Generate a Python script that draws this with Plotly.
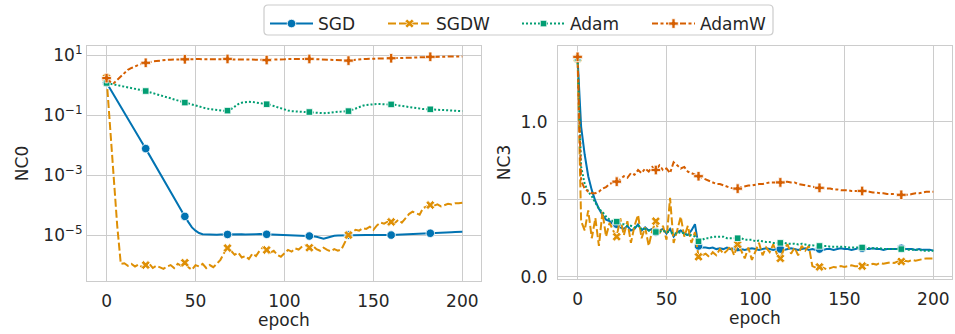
import plotly.graph_objects as go

# ---------------- data ----------------
epochs = list(range(0, 201, 2))
marker_epochs = [0, 22, 44, 68, 90, 114, 136, 160, 182]
series_names = ["SGD", "SGDW", "Adam", "AdamW"]

nc0_sgd = [
    1.2, 0.74, 0.47, 0.30, 0.19, 0.12, 0.074, 0.047, 0.030, 0.019,
    0.012, 7.6e-3, 4.7e-3, 3.0e-3, 1.8e-3, 1.1e-3, 7.1e-4, 4.4e-4, 2.7e-4, 1.7e-4,
    1.07e-4, 6.8e-5, 4.2e-5, 2.7e-5, 1.8e-5, 1.4e-5, 1.17e-5, 1.07e-5, 1.05e-5, 1.04e-5,
    1.04e-5, 1.03e-5, 1.05e-5, 1.06e-5, 1.05e-5, 1.04e-5, 1.05e-5, 1.07e-5, 1.06e-5, 1.05e-5,
    1.04e-5, 1.06e-5, 1.07e-5, 1.08e-5, 1.07e-5, 1.06e-5, 1.05e-5, 1.04e-5, 1.03e-5, 1.02e-5,
    1.0e-5, 0.99e-5, 0.98e-5, 0.97e-5, 0.96e-5, 0.95e-5, 0.94e-5, 0.93e-5, 0.92e-5, 0.88e-5,
    0.8e-5, 0.76e-5, 0.82e-5, 0.9e-5, 0.95e-5, 0.97e-5, 0.98e-5, 0.99e-5, 1.0e-5, 1.0e-5,
    1.0e-5, 0.99e-5, 1.0e-5, 1.01e-5, 1.0e-5, 0.99e-5, 1.0e-5, 1.01e-5, 1.0e-5, 1.0e-5,
    1.0e-5, 1.01e-5, 1.02e-5, 1.03e-5, 1.04e-5, 1.05e-5, 1.06e-5, 1.08e-5, 1.1e-5, 1.12e-5,
    1.13e-5, 1.15e-5, 1.16e-5, 1.18e-5, 1.2e-5, 1.21e-5, 1.23e-5, 1.25e-5, 1.27e-5, 1.28e-5,
    1.3e-5,
]
nc0_sgdw = [
    1.7, 0.04, 9e-4, 2e-5, 1.1e-6, 1.15e-6, 0.95e-6, 1.1e-6, 0.9e-6, 1.05e-6,
    0.85e-6, 1.0e-6, 1.1e-6, 0.8e-6, 0.95e-6, 0.85e-6, 0.75e-6, 0.9e-6, 1.0e-6, 0.8e-6,
    1.1e-6, 0.95e-6, 1.2e-6, 0.85e-6, 0.7e-6, 1.0e-6, 0.9e-6, 1.1e-6, 0.8e-6, 1.0e-6,
    0.85e-6, 1.1e-6, 1.5e-6, 2.5e-6, 3.7e-6, 3.0e-6, 2.2e-6, 2.6e-6, 1.8e-6, 2.0e-6,
    1.6e-6, 2.4e-6, 2.0e-6, 3.0e-6, 4.0e-6, 3.2e-6, 2.6e-6, 3.0e-6, 2.2e-6, 1.9e-6,
    2.5e-6, 3.2e-6, 2.8e-6, 3.6e-6, 3.3e-6, 4.2e-6, 4.6e-6, 3.8e-6, 4.4e-6, 3.4e-6,
    3.0e-6, 3.8e-6, 3.2e-6, 2.9e-6, 3.4e-6, 3.0e-6, 3.3e-6, 6e-6, 1.0e-5, 1.2e-5,
    1.5e-5, 1.4e-5, 1.7e-5, 1.6e-5, 1.9e-5, 1.5e-5, 2.1e-5, 2.6e-5, 2.4e-5, 2.8e-5,
    2.75e-5, 2.5e-5, 3.2e-5, 2.6e-5, 3.6e-5, 5.0e-5, 6.0e-5, 5.4e-5, 4.8e-5, 8e-5,
    9e-5, 1.0e-4, 9.5e-5, 1.05e-4, 9e-5, 1.0e-4, 1.1e-4, 1.05e-4, 1.15e-4, 1.15e-4,
    1.2e-4,
]
nc0_adam = [
    1.17, 1.11, 1.05, 0.99, 0.93, 0.88, 0.83, 0.785, 0.74, 0.70,
    0.66, 0.63, 0.58, 0.54, 0.50, 0.46, 0.42, 0.39, 0.36, 0.33,
    0.305, 0.28, 0.26, 0.24, 0.22, 0.20, 0.186, 0.174, 0.166, 0.158,
    0.151, 0.145, 0.14, 0.138, 0.14, 0.158, 0.19, 0.23, 0.257, 0.272,
    0.275, 0.272, 0.263, 0.251, 0.24, 0.229, 0.219, 0.2, 0.182, 0.166,
    0.151, 0.141, 0.135, 0.132, 0.13, 0.129, 0.129, 0.126, 0.123, 0.119,
    0.116, 0.115, 0.117, 0.122, 0.126, 0.129, 0.13, 0.132, 0.135, 0.148,
    0.166, 0.186, 0.204, 0.216, 0.224, 0.229, 0.232, 0.232, 0.232, 0.229,
    0.226, 0.219, 0.209, 0.2, 0.19, 0.182, 0.174, 0.168, 0.162, 0.158,
    0.157, 0.155, 0.151, 0.148, 0.145, 0.141, 0.138, 0.136, 0.135, 0.135,
    0.135,
]
nc0_adamw = [
    1.7, 1.3, 1.15, 1.5, 2.0, 2.6, 3.2, 3.7, 4.3, 4.7,
    5.1, 5.5, 5.8, 6.1, 6.3, 6.6, 6.8, 6.9, 7.0, 7.1,
    7.1, 7.2, 7.2, 7.2, 7.3, 7.3, 7.3, 7.3, 7.4, 7.4,
    7.4, 7.4, 7.4, 7.4, 7.4, 7.3, 7.3, 7.2, 7.2, 7.2,
    7.1, 7.0, 7.0, 6.9, 6.9, 6.8, 6.8, 6.9, 7.0, 7.1,
    7.2, 7.3, 7.4, 7.4, 7.5, 7.5, 7.4, 7.4, 7.3, 7.1,
    6.9, 6.8, 6.7, 6.6, 6.5, 6.5, 6.5, 6.6, 6.5, 6.7,
    7.0, 7.2, 7.3, 7.4, 7.5, 7.6, 7.6, 7.7, 7.7, 7.8,
    7.8, 7.9, 7.9, 8.0, 8.1, 8.2, 8.3, 8.4, 8.5, 8.5,
    8.6, 8.7, 8.7, 8.8, 8.8, 8.8, 8.9, 8.9, 8.9, 9.0,
    9.0,
]

nc3_sgd = [
    1.41, 0.97, 0.79, 0.65, 0.56, 0.49, 0.44, 0.40, 0.37, 0.36,
    0.34, 0.34, 0.32, 0.31, 0.33, 0.30, 0.31, 0.34, 0.30, 0.32,
    0.30, 0.31, 0.29, 0.30, 0.31, 0.28, 0.31, 0.26, 0.29, 0.30,
    0.28, 0.27, 0.30, 0.34, 0.20, 0.19, 0.19, 0.185, 0.19, 0.18,
    0.185, 0.18, 0.19, 0.18, 0.185, 0.19, 0.18, 0.175, 0.18, 0.185,
    0.18, 0.175, 0.18, 0.185, 0.18, 0.175, 0.18, 0.18, 0.175, 0.18,
    0.185, 0.18, 0.175, 0.18, 0.185, 0.175, 0.18, 0.175, 0.18, 0.175,
    0.18, 0.18, 0.175, 0.18, 0.185, 0.18, 0.18, 0.175, 0.18, 0.185,
    0.185, 0.18, 0.18, 0.185, 0.18, 0.18, 0.175, 0.18, 0.18, 0.18,
    0.18, 0.185, 0.18, 0.18, 0.18, 0.175, 0.18, 0.175, 0.175, 0.175,
    0.17,
]
nc3_sgdw = [
    1.41, 0.36, 0.30, 0.43, 0.25, 0.38, 0.20, 0.42, 0.26, 0.35,
    0.30, 0.26, 0.38, 0.27, 0.36, 0.22, 0.33, 0.40, 0.25, 0.32,
    0.20, 0.30, 0.36, 0.28, 0.33, 0.24, 0.51, 0.22, 0.30, 0.39,
    0.26, 0.33, 0.22, 0.29, 0.13, 0.14, 0.15, 0.13, 0.16, 0.14,
    0.18, 0.15, 0.17, 0.20, 0.14, 0.21, 0.17, 0.12, 0.19, 0.11,
    0.17, 0.22, 0.14, 0.19, 0.16, 0.21, 0.15, 0.12, 0.18, 0.21,
    0.15, 0.19, 0.14, 0.20, 0.17, 0.20, 0.07, 0.06, 0.065, 0.06,
    0.05, 0.06, 0.065, 0.06, 0.07, 0.065, 0.07, 0.075, 0.07, 0.07,
    0.07, 0.08, 0.075, 0.085, 0.08, 0.09, 0.085, 0.09, 0.095, 0.09,
    0.10, 0.10, 0.105, 0.10, 0.11, 0.105, 0.11, 0.115, 0.12, 0.12,
    0.12,
]
nc3_adam = [
    1.41, 0.71, 0.60, 0.55, 0.52, 0.48, 0.44, 0.42, 0.39, 0.37,
    0.36, 0.357, 0.34, 0.34, 0.33, 0.33, 0.32, 0.33, 0.31, 0.31,
    0.30, 0.30, 0.29, 0.29, 0.30, 0.29, 0.29, 0.28, 0.28, 0.29,
    0.28, 0.27, 0.27, 0.26, 0.23, 0.24, 0.25, 0.25, 0.26, 0.26,
    0.26, 0.26, 0.25, 0.25, 0.25, 0.25, 0.25, 0.24, 0.24, 0.24,
    0.23, 0.235, 0.23, 0.225, 0.225, 0.22, 0.22, 0.22, 0.22, 0.215,
    0.215, 0.215, 0.21, 0.215, 0.21, 0.205, 0.205, 0.2, 0.2, 0.2,
    0.2, 0.195, 0.195, 0.195, 0.195, 0.195, 0.19, 0.19, 0.19, 0.19,
    0.19, 0.19, 0.185, 0.185, 0.185, 0.185, 0.18, 0.18, 0.18, 0.18,
    0.18, 0.18, 0.18, 0.175, 0.175, 0.175, 0.175, 0.17, 0.17, 0.17,
    0.17,
]
nc3_adamw = [
    1.42, 0.62, 0.57, 0.55, 0.54, 0.54, 0.55, 0.57, 0.58, 0.60,
    0.61, 0.615, 0.63, 0.65, 0.64, 0.67, 0.66, 0.69, 0.67, 0.70,
    0.68, 0.71, 0.69, 0.72, 0.69, 0.70, 0.67, 0.74, 0.72, 0.70,
    0.71, 0.68, 0.67, 0.66, 0.65, 0.64, 0.63, 0.62, 0.61, 0.60,
    0.60, 0.59, 0.58, 0.575, 0.57, 0.57, 0.58, 0.585, 0.59, 0.59,
    0.595, 0.60, 0.60, 0.605, 0.61, 0.61, 0.61, 0.61, 0.615, 0.615,
    0.61, 0.61, 0.60, 0.595, 0.59, 0.585, 0.58, 0.578, 0.575, 0.575,
    0.57, 0.57, 0.565, 0.565, 0.56, 0.56, 0.56, 0.555, 0.555, 0.555,
    0.555, 0.55, 0.55, 0.545, 0.545, 0.54, 0.54, 0.535, 0.535, 0.535,
    0.53, 0.53, 0.53, 0.53, 0.535, 0.54, 0.54, 0.545, 0.55, 0.55,
    0.55,
]

nc0_tick_vals = [10, 0.1, 1e-3, 1e-5]
nc0_tick_text = ["10<sup>1</sup>", "10<sup>\u22121</sup>", "10<sup>\u22123</sup>", "10<sup>\u22125</sup>"]
nc3_tick_vals = [0.0, 0.5, 1.0]
nc3_tick_text = ["0.0", "0.5", "1.0"]
x_tick_vals = [0, 50, 100, 150, 200]

# ---------------- style ----------------
FONT = "DejaVu Sans"
TXT = "#262626"
GRID = "#cccccc"
FS = 17
W, H = 955, 334

styles = {
    "SGD": dict(color="#0173b2", dash="solid", symbol="circle", size=8.5),
    "SGDW": dict(color="#de8f05", dash="8px,3px", symbol="x", size=8),
    "Adam": dict(color="#029e73", dash="2px,2px", symbol="square", size=6.5),
    "AdamW": dict(color="#d55e00", dash="6px,2.5px,3px,2.5px", symbol="cross", size=8),
}
# one legend per entry, placed where the reference draws each entry (px from left)
legend_ids = {"SGD": "legend", "SGDW": "legend2", "Adam": "legend3", "AdamW": "legend4"}
legend_left_px = {"SGD": 265, "SGDW": 383, "Adam": 517, "AdamW": 647}

nc0_data = {"SGD": nc0_sgd, "SGDW": nc0_sgdw, "Adam": nc0_adam, "AdamW": nc0_adamw}
nc3_data = {"SGD": nc3_sgd, "SGDW": nc3_sgdw, "Adam": nc3_adam, "AdamW": nc3_adamw}

marker_idx = [epochs.index(e) for e in marker_epochs]

fig = go.Figure()
for name in series_names:
    st = styles[name]
    line = dict(color=st["color"], width=2, dash=st["dash"])
    marker = dict(color=st["color"], symbol=st["symbol"], size=st["size"],
                  line=dict(color="white", width=0.8))
    for xa, ya, data in (("x", "y", nc0_data), ("x2", "y2", nc3_data)):
        vals = data[name]
        fig.add_trace(go.Scatter(x=epochs, y=vals, mode="lines", line=line,
                                 xaxis=xa, yaxis=ya, showlegend=False,
                                 legendgroup=name, hoverinfo="skip"))
        fig.add_trace(go.Scatter(x=[epochs[i] for i in marker_idx],
                                 y=[vals[i] for i in marker_idx],
                                 mode="markers", marker=marker,
                                 xaxis=xa, yaxis=ya, showlegend=False,
                                 legendgroup=name))
    fig.add_trace(go.Scatter(x=[None], y=[None], mode="lines+markers", name=name,
                             line=line, marker=marker, legendgroup=name,
                             legend=legend_ids[name], xaxis="x", yaxis="y"))

def dx(a, b):
    return [a / W, b / W]
def dy(top, bottom):
    return [1 - bottom / H, 1 - top / H]

def axis_style(ticklen):
    return dict(
        showgrid=True, gridcolor=GRID, gridwidth=1.2,
        showline=True, mirror=True, linecolor=GRID, linewidth=1.2,
        zeroline=False, ticks="outside", ticklen=ticklen, tickcolor="rgba(0,0,0,0)",
        tickfont=dict(family=FONT, size=FS, color=TXT),
        automargin=False,
    )

title_font = dict(family=FONT, size=FS, color=TXT)

legend_layout = {}
for name in series_names:
    legend_layout[legend_ids[name]] = dict(
        orientation="h", x=legend_left_px[name] / W, xanchor="left",
        y=1 - 6 / H, yanchor="top", bgcolor="rgba(0,0,0,0)", borderwidth=0,
        font=dict(family=FONT, size=FS, color=TXT), itemwidth=43,
    )

# rounded legend frame (px -> paper)
bx0, bx1, by0, by1, r = 264, 773, 5, 35, 4
def px(x):
    return x / W
def py(y):
    return 1 - y / H
frame_path = (
    f"M {px(bx0 + r)} {py(by0)} L {px(bx1 - r)} {py(by0)} "
    f"Q {px(bx1)} {py(by0)} {px(bx1)} {py(by0 + r)} L {px(bx1)} {py(by1 - r)} "
    f"Q {px(bx1)} {py(by1)} {px(bx1 - r)} {py(by1)} L {px(bx0 + r)} {py(by1)} "
    f"Q {px(bx0)} {py(by1)} {px(bx0)} {py(by1 - r)} L {px(bx0)} {py(by0 + r)} "
    f"Q {px(bx0)} {py(by0)} {px(bx0 + r)} {py(by0)} Z"
)

fig.update_layout(
    width=W, height=H,
    margin=dict(l=0, r=0, t=0, b=0),
    paper_bgcolor="white", plot_bgcolor="white",
    font=dict(family=FONT, size=FS, color=TXT),
    xaxis=dict(domain=dx(87, 481), range=[-11, 210.5], tickvals=x_tick_vals,
               anchor="y", title=dict(text="epoch", standoff=0, font=title_font),
               **axis_style(4)),
    yaxis=dict(domain=dy(46, 281), type="log", range=[-6.53, 1.3],
               tickvals=nc0_tick_vals, ticktext=nc0_tick_text, anchor="x",
               title=dict(text="NC0", standoff=10, font=title_font),
               **axis_style(0)),
    xaxis2=dict(domain=dx(558, 952), range=[-11, 210.5], tickvals=x_tick_vals,
                anchor="y2", title=dict(text="epoch", standoff=0, font=title_font),
                **axis_style(4)),
    yaxis2=dict(domain=dy(46, 279), range=[-0.013, 1.49],
                tickvals=nc3_tick_vals, ticktext=nc3_tick_text, anchor="x2",
                title=dict(text="NC3", standoff=5, font=title_font),
                **axis_style(6)),
    shapes=[dict(type="path", xref="paper", yref="paper", path=frame_path,
                 line=dict(color=GRID, width=1.2), fillcolor="white", layer="below")],
    **legend_layout,
)

fig.write_html("out.html")
